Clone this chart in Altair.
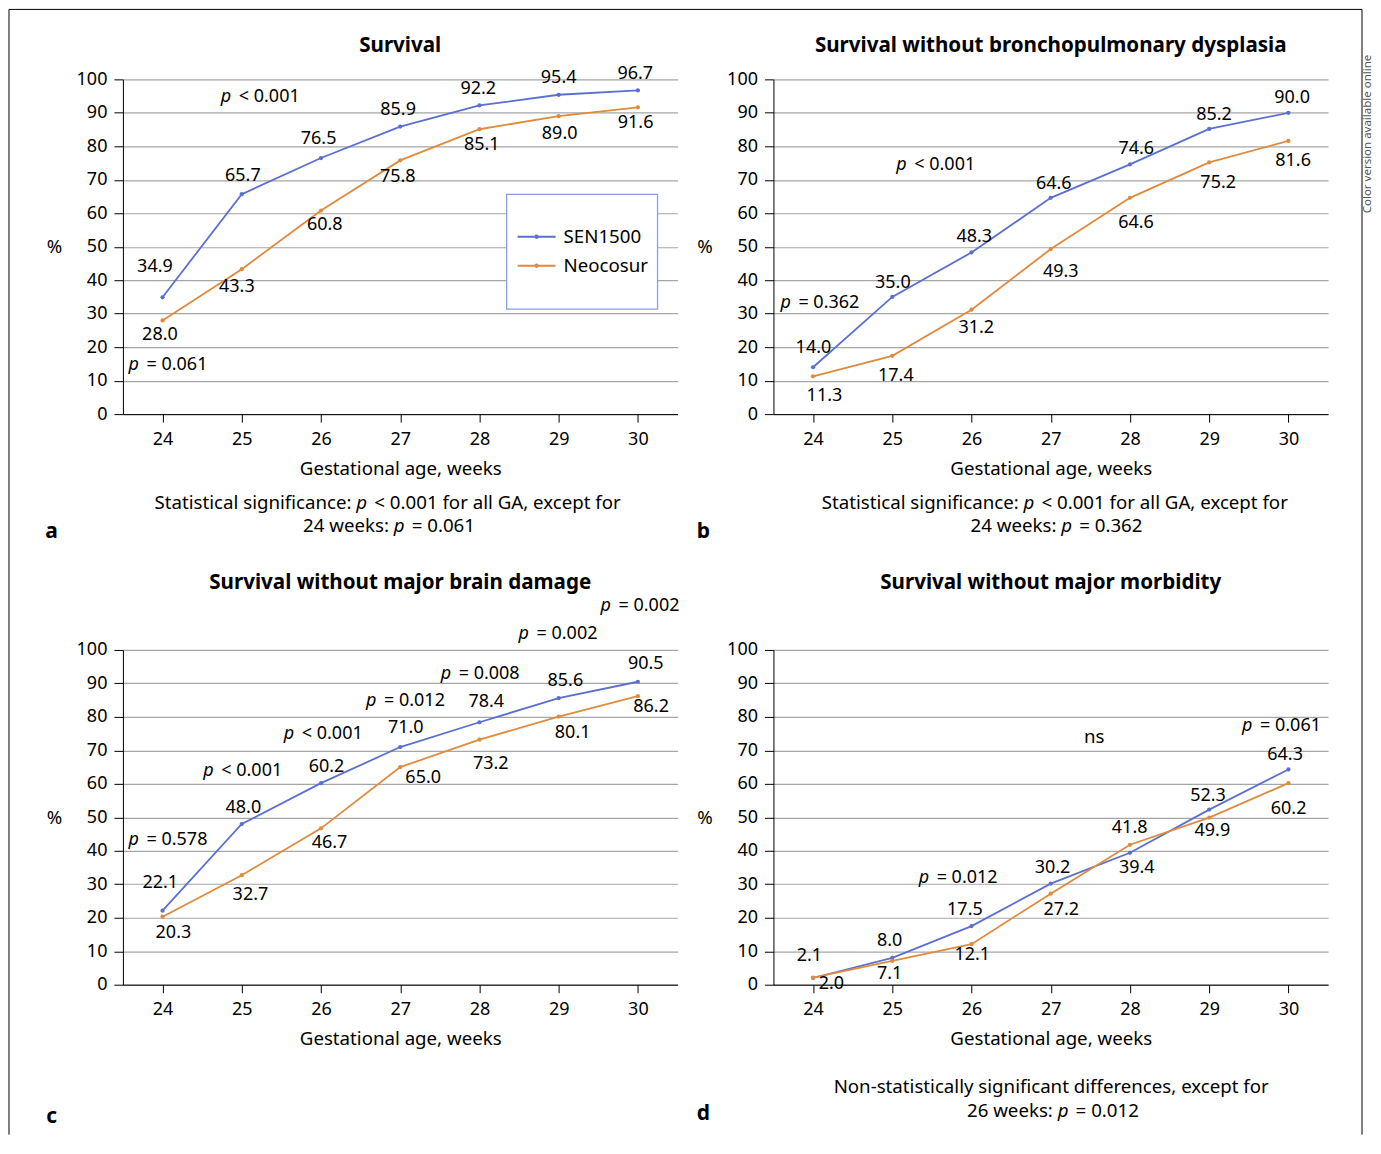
import altair as alt
import pandas as pd

FONT = "Noto Sans"

weeks = [24, 25, 26, 27, 28, 29, 30]
series_names = ["SEN1500", "Neocosur"]
series_colors = ["#5a6fd0", "#e08a3c"]

# ---- values (%) ----
a_sen = [34.9, 65.7, 76.5, 85.9, 92.2, 95.4, 96.7]
a_neo = [28.0, 43.3, 60.8, 75.8, 85.1, 89.0, 91.6]
b_sen = [14.0, 35.0, 48.3, 64.6, 74.6, 85.2, 90.0]
b_neo = [11.3, 17.4, 31.2, 49.3, 64.6, 75.2, 81.6]
c_sen = [22.1, 48.0, 60.2, 71.0, 78.4, 85.6, 90.5]
c_neo = [20.3, 32.7, 46.7, 65.0, 73.2, 80.1, 86.2]
d_sen = [2.0, 8.0, 17.5, 30.2, 39.4, 52.3, 64.3]
d_neo = [2.1, 7.1, 12.1, 27.2, 41.8, 49.9, 60.2]

titles = ["Survival", "Survival without bronchopulmonary dysplasia",
          "Survival without major brain damage", "Survival without major morbidity"]
letters = ["a", "b", "c", "d"]

# ---- value-label pixel nudges (dx, dy) ----
a_sen_off = [(-7.6, -30.1), (1.1, -17.9), (-2.4, -19.2), (-2.1, -16.2), (-1.2, -16.6), (0, -16.6), (-2.6, -16.5)]
a_neo_off = [(-2.6, 14.8), (-4.9, 18), (3.8, 14.7), (-2.5, 16.9), (2.3, 15.7), (1, 18.2), (-2.3, 15.3)]
b_sen_off = [(0.4, -19.7), (0.6, -13.8), (2.8, -15.5), (3, -13.6), (6.3, -15.6), (4.8, -14), (3.7, -15.1)]
b_neo_off = [(11.4, 19.5), (3.6, 20.3), (4.8, 18.3), (10.1, 22.6), (6.1, 25.4), (9, 20.9), (4.7, 20.4)]
c_sen_off = [(-2.3, -28), (1.6, -16.2), (5.5, -16.6), (5.5, -19.5), (6.8, -20.1), (6.7, -16.7), (7.9, -17.8)]
c_neo_off = [(10.9, 16.3), (8.7, 19.5), (8.6, 15), (23, 10.5), (11.3, 23.9), (14, 16.6), (13.2, 10.6)]
d_sen_off = [(18.4, 6.2), (-2.7, -16.5), (-6.6, -16.2), (1.8, -15.2), (6.8, 15.6), (-1.2, -14), (-3.3, -14.6)]
d_neo_off = [(-3.6, -21.2), (-2.7, 12.7), (0.8, 10.5), (10.5, 16.3), (-0.3, -16.6), (3.2, 12.9), (0.2, 25.7)]

# ---- p-value annotations: (week, %, text after italic p) ----
a_ann = [(24.736, 94.7, "< 0.001"), (23.571, 14.6, "= 0.061")]
b_ann = [(25.051, 74.4, "< 0.001"), (23.588, 33.2, "= 0.362")]
c_ann = [(29.529, 113.2, "= 0.002"), (28.494, 104.8, "= 0.002"), (27.511, 92.7, "= 0.008"),
         (26.569, 84.8, "= 0.012"), (25.531, 74.8, "< 0.001"), (24.515, 63.9, "< 0.001"),
         (23.571, 43.3, "= 0.578")]
d_ann = [(29.415, 77.2, "= 0.061"), (25.333, 31.8, "= 0.012")]
d_plain = [(27.549, 74.0, "ns")]

# ---- captions: (week of p, %, text before p, text after p) ----
a_cap = [(26.446, -26.5, "Statistical significance:", "< 0.001 for all GA, except for"),
         (26.918, -33.4, "24 weeks:", "= 0.061")]
b_cap = [(26.656, -26.5, "Statistical significance:", "< 0.001 for all GA, except for"),
         (27.132, -33.4, "24 weeks:", "= 0.362")]
d_cap_plain = [(27.006, -30.6, "Non-statistically significant differences, except for")]
d_cap = [(27.087, -37.6, "26 weeks:", "= 0.012")]

title_pos = [(27.0, 110.0), (27.0, 110.0), (27.0, 120.1), (27.0, 120.1)]
letter_pos = [(22.6, -35.2), (22.617, -35.2), (22.6, -39.4), (22.617, -38.5)]

legend_box = (28.343, 30.248, 31.34, 65.67)

W, H = 555, 335
NUM = 18      # numbers
TXT = 18.7    # words


def encodings():
    x = alt.X("week:Q",
              scale=alt.Scale(domain=[23.5, 30.5], nice=False, zero=False),
              axis=alt.Axis(values=weeks, format="d", title="Gestational age, weeks",
                            grid=False, tickSize=8, labelPadding=8, titlePadding=11,
                            labelFlush=False, titleFontSize=TXT))
    y = alt.Y("value:Q",
              scale=alt.Scale(domain=[0, 100], nice=False, zero=False),
              axis=alt.Axis(values=list(range(0, 101, 10)), title="%", titleAngle=0,
                            titleX=-69, titleY=H / 2, titleAlign="center",
                            titleBaseline="middle", tickSize=9, labelPadding=7,
                            grid=True, labelFlush=False))
    return x, y


def text_layer(week, value, text, **kw):
    x, y = encodings()
    df = pd.DataFrame({"week": [week], "value": [value], "t": [text]})
    props = dict(font=FONT, fontSize=NUM, color="black", baseline="middle")
    props.update(kw)
    return alt.Chart(df).mark_text(**props).encode(x=x, y=y, text="t:N")


def p_text(week, value, before, after, size=NUM):
    layers = []
    if before:
        layers.append(text_layer(week, value, before, align="right", dx=-4.8, fontSize=TXT))
    layers.append(text_layer(week, value, "p", align="left", fontStyle="italic", fontSize=size))
    layers.append(text_layer(week, value, after, align="left", dx=18, fontSize=size))
    return layers


def panel(i, sen, neo, sen_off, neo_off, ann, plain, caps, caps_plain, legend=False):
    x, y = encodings()
    df = pd.DataFrame({
        "week": weeks * 2,
        "value": sen + neo,
        "series": [series_names[0]] * 7 + [series_names[1]] * 7,
    })
    if legend:
        leg = alt.Legend(title=None, orient="none", legendX=396.5, legendY=140,
                         symbolType="M-1.15,0L1.15,0M0.07,0A0.07,0.07,0,1,1,-0.07,0A0.07,0.07,0,1,1,0.07,0",
                         symbolSize=1089, symbolStrokeWidth=2, labelFont=FONT,
                         labelFontSize=TXT, labelColor="black", labelOffset=9.5,
                         rowPadding=1, padding=0)
    else:
        leg = None
    color = alt.Color("series:N", scale=alt.Scale(domain=series_names, range=series_colors),
                      legend=leg)
    layers = []
    if legend:
        x0, x1, y0, y1 = legend_box
        bdf = pd.DataFrame({"week": [x0], "week2": [x1], "value": [y0], "value2": [y1]})
        layers.append(alt.Chart(bdf).mark_rect(fill="white", stroke="#8c9ee0", strokeWidth=1.3)
                      .encode(x=x, x2="week2:Q", y=y, y2="value2:Q"))
    layers.append(alt.Chart(df).mark_line(strokeWidth=1.8).encode(x=x, y=y, color=color))
    layers.append(alt.Chart(df).mark_point(filled=True, size=18, opacity=1)
                  .encode(x=x, y=y, color=color))
    for vals, offs in ((sen, sen_off), (neo, neo_off)):
        for w, v, (dx, dy) in zip(weeks, vals, offs):
            layers.append(text_layer(w, v, f"{v:.1f}", align="center", dx=dx, dy=dy))
    for w, v, t in ann:
        layers += p_text(w, v, None, t)
    for w, v, t in plain:
        layers.append(text_layer(w, v, t, align="center", fontSize=TXT))
    for w, v, b, t in caps:
        layers += p_text(w, v, b, t, size=TXT)
    for w, v, t in caps_plain:
        layers.append(text_layer(w, v, t, align="center", fontSize=TXT))
    tw, tv = title_pos[i]
    layers.append(text_layer(tw, tv, titles[i], align="center", fontSize=20.6, fontWeight="bold"))
    lw, lv = letter_pos[i]
    layers.append(text_layer(lw, lv, letters[i], align="center", fontSize=21, fontWeight="bold"))
    return layers


pa = panel(0, a_sen, a_neo, a_sen_off, a_neo_off, a_ann, [], a_cap, [], legend=True)
pb = panel(1, b_sen, b_neo, b_sen_off, b_neo_off, b_ann, [], b_cap, [])
pc = panel(2, c_sen, c_neo, c_sen_off, c_neo_off, c_ann, [], [], [])
pd_ = panel(3, d_sen, d_neo, d_sen_off, d_neo_off, d_ann, d_plain, d_cap, d_cap_plain)

# figure frame (decoration) and side note
dummy = pd.DataFrame({"k": [0]})
FRAME_BOTTOM = 1056
FRAME_RIGHT = 1240
frame = [
    alt.Chart(dummy).mark_rule(color="black", strokeWidth=1).encode(
        x=alt.value(-114), x2=alt.value(FRAME_RIGHT), y=alt.value(-70)),
    alt.Chart(dummy).mark_rule(color="black", strokeWidth=1).encode(
        x=alt.value(-114), y=alt.value(-70), y2=alt.value(FRAME_BOTTOM)),
    alt.Chart(dummy).mark_rule(color="black", strokeWidth=1).encode(
        x=alt.value(FRAME_RIGHT), y=alt.value(-70), y2=alt.value(FRAME_BOTTOM)),
]
side = alt.Chart(pd.DataFrame({"t": ["Color version available online"]})).mark_text(
    font=FONT, fontSize=11.5, color="#555555", angle=270, align="left", baseline="middle"
).encode(x=alt.value(594.5), y=alt.value(134), text="t:N")

chart_a = alt.layer(*pa, *frame).properties(width=W, height=H)
chart_b = alt.layer(*pb, side).properties(width=W, height=H)
chart_c = alt.layer(*pc).properties(width=W, height=H)
chart_d = alt.layer(*pd_).properties(width=W, height=H)

chart = alt.concat(chart_a, chart_b, chart_c, chart_d, columns=2,
                   spacing={"row": 236, "column": 96}, bounds="flush") \
    .resolve_legend(color="independent") \
    .properties(padding=0, background="white") \
    .configure_view(stroke=None) \
    .configure_axis(domainColor="black", tickColor="black", labelColor="black",
                    titleColor="black", labelFont=FONT, titleFont=FONT,
                    labelFontSize=NUM, titleFontSize=TXT, titleFontWeight="normal",
                    gridColor="#a6a6a6", gridWidth=1.2, domainWidth=1, tickWidth=1)

chart.save("out.html", embed_options={"renderer": "svg", "actions": False})
